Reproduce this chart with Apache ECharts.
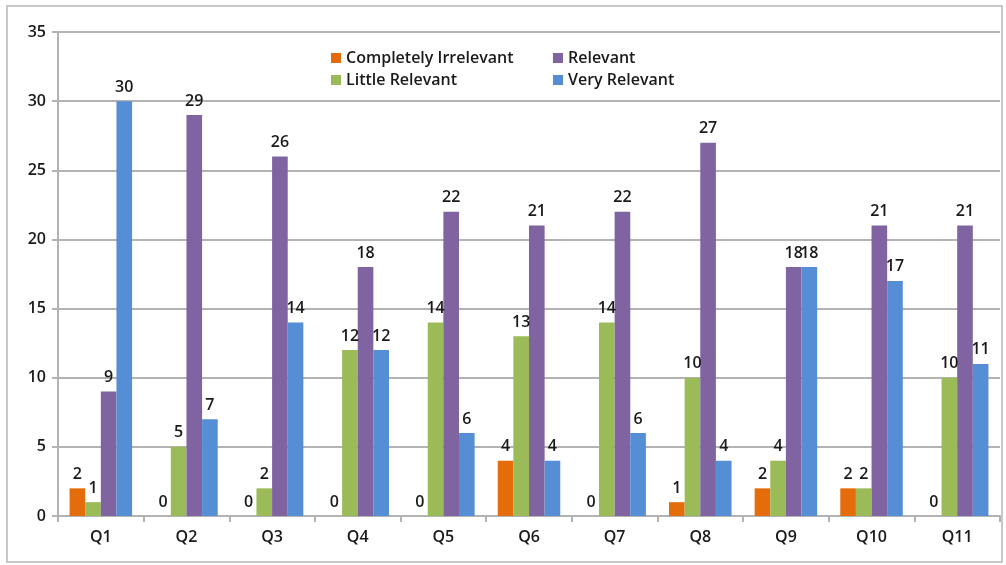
<!DOCTYPE html>
<html>
<head>
<meta charset="utf-8">
<title>Relevance by question</title>
<script src="https://cdn.jsdelivr.net/npm/echarts@6/dist/echarts.min.js"></script>
<style>
    html, body { margin: 0; padding: 0; background: #fff; }
    #chart { width: 1006px; height: 565px; }
</style>
</head>
<body>
<div id="chart"></div>
<script>
// Data
const questions = ['Q1', 'Q2', 'Q3', 'Q4', 'Q5', 'Q6', 'Q7', 'Q8', 'Q9', 'Q10', 'Q11'];
const completelyIrrelevant = [2, 0, 0, 0, 0, 4, 0, 1, 2, 2, 0];
const littleRelevant = [1, 5, 2, 12, 14, 13, 14, 10, 4, 2, 10];
const relevant = [9, 29, 26, 18, 22, 21, 22, 27, 18, 21, 21];
const veryRelevant = [30, 7, 14, 12, 6, 4, 6, 4, 18, 17, 11];

const FONT = '"Open Sans", sans-serif';
const TEXT = '#1a1a1a';
const GRID_GRAY = '#b3b3b3';

const chart = echarts.init(document.getElementById('chart'));

function barSeries(name, data, color) {
    return {
        name: name,
        type: 'bar',
        data: data,
        barGap: '0%',
        barCategoryGap: '27%',
        itemStyle: { color: color },
        label: {
            show: true,
            position: 'top',
            distance: 6,
            color: TEXT,
            fontFamily: FONT,
            fontWeight: 600,
            fontSize: 16
        }
    };
}

const legendText = {
    color: TEXT,
    fontFamily: FONT,
    fontWeight: 600,
    fontSize: 16
};

chart.setOption({
    animation: false,
    graphic: [{
        type: 'rect',
        shape: { x: 7, y: 6, width: 995, height: 556 },
        style: { fill: 'none', stroke: '#c8c8c8', lineWidth: 2 },
        silent: true,
        z: -1
    }],
    legend: [{
        left: 326,
        top: 45,
        orient: 'vertical',
        itemWidth: 10,
        itemHeight: 10,
        itemGap: 6,
        icon: 'rect',
        textStyle: legendText,
        data: ['Completely Irrelevant', 'Little Relevant']
    }, {
        left: 548,
        top: 45,
        orient: 'vertical',
        itemWidth: 10,
        itemHeight: 10,
        itemGap: 6,
        icon: 'rect',
        textStyle: legendText,
        data: ['Relevant', 'Very Relevant']
    }],
    grid: {
        left: 58,
        right: 6,
        top: 32,
        bottom: 49,
        containLabel: false
    },
    xAxis: {
        type: 'category',
        data: questions,
        axisLine: { lineStyle: { color: GRID_GRAY, width: 2 } },
        axisTick: { show: true, length: 6, lineStyle: { color: GRID_GRAY, width: 2 } },
        axisLabel: {
            color: TEXT,
            fontFamily: FONT,
            fontWeight: 600,
            fontSize: 16,
            margin: 13
        }
    },
    yAxis: {
        type: 'value',
        min: 0,
        max: 35,
        interval: 5,
        axisLine: { show: true, lineStyle: { color: GRID_GRAY, width: 2 } },
        axisTick: { show: true, length: 6, lineStyle: { color: GRID_GRAY, width: 2 } },
        splitLine: { lineStyle: { color: GRID_GRAY, width: 2 } },
        axisLabel: {
            color: TEXT,
            fontFamily: FONT,
            fontWeight: 600,
            fontSize: 16,
            margin: 12
        }
    },
    series: [
        barSeries('Completely Irrelevant', completelyIrrelevant, '#E46C0A'),
        barSeries('Little Relevant', littleRelevant, '#9BBB59'),
        barSeries('Relevant', relevant, '#8064A2'),
        barSeries('Very Relevant', veryRelevant, '#558ED5')
    ]
});
</script>
</body>
</html>
